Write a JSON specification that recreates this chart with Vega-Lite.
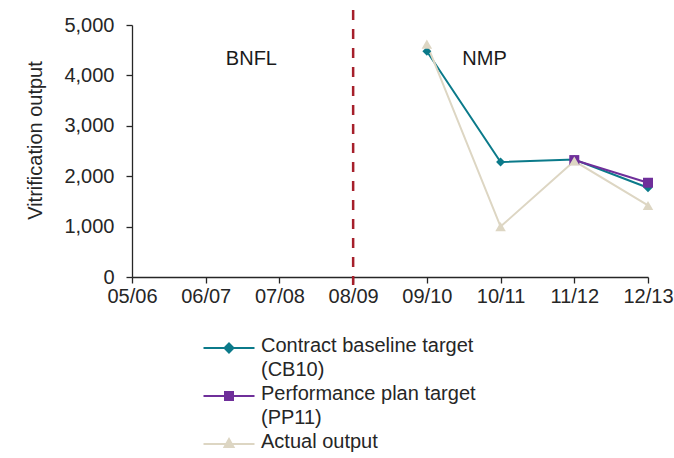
{
  "$schema": "https://vega.github.io/schema/vega-lite/v6.json",
  "autosize": "none",
  "width": 516,
  "height": 252,
  "padding": {"left": 132, "top": 25, "right": 26, "bottom": 181},
  "background": "white",
  "config": {
    "font": "Liberation Sans",
    "view": {"stroke": null},
    "axis": {"grid": false, "domainColor": "#262626", "tickColor": "#262626", "labelColor": "#262626", "titleColor": "#262626", "labelFontSize": 20, "titleFontSize": 20, "titleFontWeight": "normal", "labelFont": "Liberation Sans", "titleFont": "Liberation Sans", "domainWidth": 1.3, "tickWidth": 1.3}
  },
  "datasets": {
    "series": [
      {"year": "09/10", "series": "Contract baseline target (CB10)", "value": 4480},
      {"year": "10/11", "series": "Contract baseline target (CB10)", "value": 2280},
      {"year": "11/12", "series": "Contract baseline target (CB10)", "value": 2330},
      {"year": "12/13", "series": "Contract baseline target (CB10)", "value": 1770},
      {"year": "11/12", "series": "Performance plan target (PP11)", "value": 2320},
      {"year": "12/13", "series": "Performance plan target (PP11)", "value": 1870},
      {"year": "09/10", "series": "Actual output", "value": 4620},
      {"year": "10/11", "series": "Actual output", "value": 1000},
      {"year": "11/12", "series": "Actual output", "value": 2300},
      {"year": "12/13", "series": "Actual output", "value": 1420}
    ],
    "labels": [
      {"year": "07/08", "text": "BNFL"},
      {"year": "10/11", "text": "NMP"}
    ],
    "divider": [
      {"year": "08/09"}
    ]
  },
  "layer": [
    {
      "data": {"name": "divider"},
      "mark": {"type": "rule", "color": "#a61f2b", "strokeWidth": 2.5, "strokeDash": [10, 9]},
      "encoding": {
        "x": {"field": "year", "type": "ordinal"},
        "y": {"datum": 5300},
        "y2": {"datum": -160}
      }
    },
    {
      "data": {"name": "labels"},
      "transform": [{"filter": "datum.text == 'BNFL'"}],
      "mark": {"type": "text", "fontSize": 20, "color": "#1a1a1a", "dx": -28},
      "encoding": {
        "x": {"field": "year", "type": "ordinal"},
        "y": {"datum": 4330},
        "text": {"field": "text"}
      }
    },
    {
      "data": {"name": "labels"},
      "transform": [{"filter": "datum.text == 'NMP'"}],
      "mark": {"type": "text", "fontSize": 20, "color": "#1a1a1a", "dx": -16},
      "encoding": {
        "x": {"field": "year", "type": "ordinal"},
        "y": {"datum": 4330},
        "text": {"field": "text"}
      }
    },
    {
      "data": {"name": "series"},
      "mark": {"type": "line", "strokeWidth": 2},
      "encoding": {
        "x": {
          "field": "year", "type": "ordinal",
          "scale": {"type": "point", "padding": 0, "domain": ["05/06", "06/07", "07/08", "08/09", "09/10", "10/11", "11/12", "12/13"]},
          "axis": {"title": null, "labelAngle": 0, "labelAlign": "center", "tickSize": 6, "labelPadding": 13}
        },
        "y": {
          "field": "value", "type": "quantitative",
          "scale": {"domain": [0, 5000], "nice": false},
          "axis": {"title": "Vitrification output", "values": [0, 1000, 2000, 3000, 4000, 5000], "format": ",.0f", "tickSize": 6, "labelPadding": 12, "titlePadding": 18, "titleY": 115}
        },
        "color": {
          "field": "series", "type": "nominal",
          "scale": {"domain": ["Contract baseline target (CB10)", "Performance plan target (PP11)", "Actual output"], "range": ["#0b7a8a", "#6f2f9a", "#ddd6c3"]},
          "legend": {
            "orient": "none", "legendX": 86, "legendY": 312, "padding": 0,
            "title": null,
            "symbolSize": 400, "symbolStrokeWidth": 2,
            "labelFontSize": 20, "labelFont": "Liberation Sans", "labelColor": "#262626", "labelLimit": 0, "labelOffset": 21, "rowPadding": 4,
            "labelExpr": "indexof(datum.label, ' (') > 0 ? [substring(datum.label, 0, indexof(datum.label, ' (')), substring(datum.label, indexof(datum.label, ' (') + 1)] : datum.label",
            "encode": {
              "symbols": {"update": {
                "shape": {"signal": "datum.value == 'Contract baseline target (CB10)' ? 'M-2.55,0H2.55M0,-0.45L0.45,0L0,0.45L-0.45,0Z' : datum.value == 'Performance plan target (PP11)' ? 'M-2.55,0H2.55M-0.4,-0.4H0.4V0.4H-0.4Z' : 'M-2.55,0H2.55M0,-0.5L0.45,0.3H-0.45Z'"},
                "fill": {"scale": "color", "field": "value"},
                "stroke": {"scale": "color", "field": "value"},
                "strokeWidth": {"value": 2}
              }},
              "labels": {"update": {"lineHeight": {"value": 24}, "baseline": {"value": "top"}, "dy": {"value": -12}}}
            }
          }
        }
      }
    },
    {
      "data": {"name": "series"},
      "transform": [{"filter": "datum.series == 'Contract baseline target (CB10)'"}],
      "mark": {"type": "point", "shape": "diamond", "filled": true, "opacity": 1, "size": 80, "color": "#0b7a8a"},
      "encoding": {
        "x": {"field": "year", "type": "ordinal"},
        "y": {"field": "value", "type": "quantitative"}
      }
    },
    {
      "data": {"name": "series"},
      "transform": [{"filter": "datum.series == 'Performance plan target (PP11)'"}],
      "mark": {"type": "point", "shape": "square", "filled": true, "opacity": 1, "size": 100, "color": "#6f2f9a"},
      "encoding": {
        "x": {"field": "year", "type": "ordinal"},
        "y": {"field": "value", "type": "quantitative"}
      }
    },
    {
      "data": {"name": "series"},
      "transform": [{"filter": "datum.series == 'Actual output'"}],
      "mark": {"type": "point", "shape": "triangle-up", "filled": true, "opacity": 1, "size": 110, "color": "#ddd6c3"},
      "encoding": {
        "x": {"field": "year", "type": "ordinal"},
        "y": {"field": "value", "type": "quantitative"}
      }
    }
  ]
}
